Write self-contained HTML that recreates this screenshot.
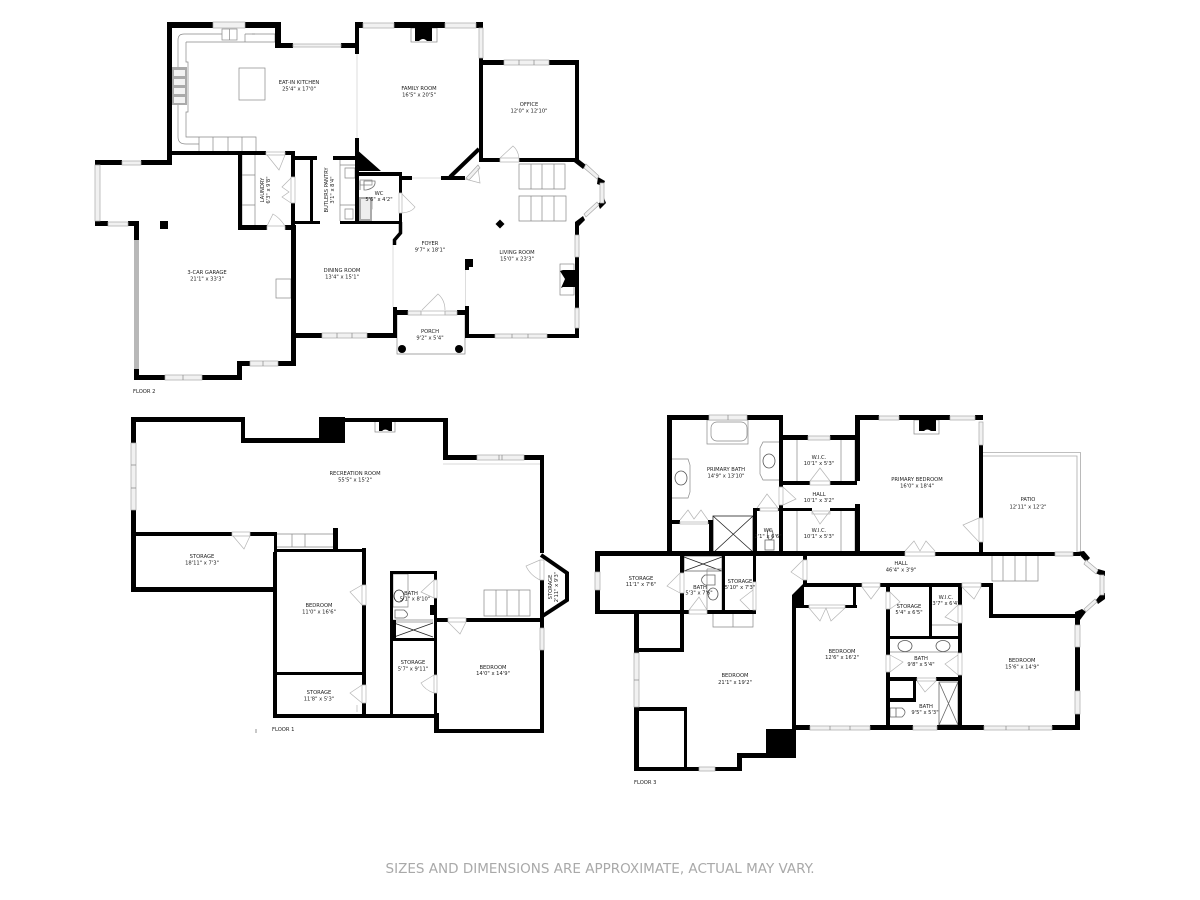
<!DOCTYPE html>
<html><head><meta charset="utf-8"><title>Floor plan</title>
<style>
html,body{margin:0;padding:0;background:#fff;width:1200px;height:900px;overflow:hidden}
svg{display:block}
.b{fill:#000}
.w{fill:#f1f1f1;stroke:#a8a8a8;stroke-width:.7}
.d{fill:none;stroke:#b5b5b5;stroke-width:.7}
.l{fill:none;stroke:#888;stroke-width:.7}
.g{fill:none;stroke:#aaa;stroke-width:.8}
.k{fill:none;stroke:#222;stroke-width:.8}
.ln{fill:none;stroke:#000}
text{font-family:"DejaVu Sans","Liberation Sans",sans-serif;font-size:5.2px;fill:#222;text-anchor:middle}
text.f{text-anchor:start}
</style></head><body>
<svg width="1200" height="900" viewBox="0 0 1200 900" xmlns="http://www.w3.org/2000/svg">
<rect width="1200" height="900" fill="#fff"/>

<!-- FLOOR 2 interior light -->
<path class="l" d="M186 42H275M178 40V137Q178 144 186 144H199M178 40Q178 34 184 34H222M186 42V62L188 62V112H186V137H256V151M199 137V151M213 137V151M228 137V151M242 137V151M245 34H275V42M245 34V42"/>
<rect x="239" y="68" width="26" height="32" class="l"/>
<rect x="172" y="67" width="15" height="38" fill="#aaa"/>
<g fill="#f2f2f2"><rect x="174" y="70" width="11" height="6"/><rect x="174" y="79" width="11" height="6"/><rect x="174" y="88" width="11" height="6"/><rect x="174" y="97" width="11" height="6"/></g>
<rect x="222" y="29" width="15" height="11" class="l"/>
<path class="l" d="M229.500 29V40M252 34H255M242 155V225M255 155V225M242 175H255M242 205H255M340 160V221M340 165H355M340 205H355M345 168H355V178H345ZM345 209H353V219H345Z"/>
<rect x="411" y="28" width="26" height="14" class="l"/>
<path class="b" d="M415 28H432V41H427Q423 37 419 41H415Z"/>
<path class="l" d="M519 164H565V189H519ZM519 196H566V221H519ZM531 164V189M542 164V189M554 164V189M531 196V221M542 196V221M554 196V221"/>
<rect x="560" y="264" width="14" height="31" class="l"/>
<path class="b" d="M563 270H579V287H563L561 288 565 279 560 271Z"/>
<rect x="276" y="279" width="15" height="19" class="l"/>
<path class="l" d="M397 310V354H465V310"/>
<path class="l" d="M360 180H372V185H360ZM360 198H372V209H360Z"/>
<path class="k" d="M364 181H375Q376 188 366 190H364ZM360 181V190" style="stroke:#777"/>
<rect x="359" y="197" width="13" height="24" fill="#aaa"/>
<rect x="361" y="199" width="9" height="20" fill="#eee"/>

<!-- FLOOR 2 walls -->
<path class="b" d="M167 22H213V28H167ZM245 22H281V28H245ZM167 22H172V165H167ZM275 22H281V48H275ZM275 43H293V48H275ZM341 43H357V48H341ZM167 151H266V155H167ZM285 151H295V155H285ZM295 156H317V160H295ZM333 156H357V160H333ZM95 160H122V165H95ZM141 160H172V165H141ZM95 221H108V226H95ZM128 221H139V226H128ZM134 221H139V240H134ZM134 369H139V380H134ZM134 375H165V380H134ZM202 375H242V380H202ZM237 361H242V380H237ZM237 361H250V366H237ZM278 361H296V366H278ZM291 225H296V366H291ZM238 155H242V230H238ZM238 225H267V230H238ZM285 225H296V230H285ZM291 155H295V177H291ZM291 203H295V228H291ZM310 156H313V224H310ZM294 221H320V224H294ZM340 221H402V224H340ZM355 22H363V28H355ZM394 22H445V28H394ZM476 22H483V28H476ZM355 22H359V54H355ZM355 138H359V224H355ZM355 148L381 171H355ZM359 172H400V176H359ZM399 172H402V193H399ZM399 213H402V224H399ZM402 176H412V180H402ZM441 176H465V180H441ZM479 58H483V162H479ZM479 60H504V65H479ZM549 60H579V65H549ZM575 60H579V162H575ZM480 158H500V162H480ZM519 158H578V162H519ZM575 225H579V235H575ZM575 257H579V308H575ZM575 328H579V338H575ZM465 334H495V338H465ZM547 334H579V338H547ZM296 333H322V338H296ZM367 333H397V338H367ZM393 307H397V338H393ZM465 306H469V338H465ZM393 310H408V315H393ZM457 310H469V315H457ZM577 158L586 165 583 169 574 162ZM598 177L605 181 603 186 597 184ZM598 204L604 198 606 203 600 209ZM575 222L583 216 585 220 579 226 575 233Z"/>
<path class="b" d="M465 259H473V267H469V270H465Z"/>
<path class="b" d="M500 219.500L504.500 224 500 228.500 495.500 224Z"/>
<rect x="160" y="221" width="8" height="8"/>
<circle cx="402" cy="349" r="4"/><circle cx="459" cy="349" r="4"/>
<path class="ln" stroke-width="4" d="M450 177L479 149"/>
<path class="ln" stroke-width="3.500" d="M400.500 222V233L394.500 240V245"/>

<!-- F2 windows -->
<rect class="w" x="213" y="22" width="32" height="6"/>
<rect class="w" x="293" y="44" width="48" height="3"/>
<rect class="w" x="363" y="23" width="31" height="5"/>
<rect class="w" x="445" y="23" width="31" height="5"/>
<rect class="w" x="479" y="28" width="4" height="30"/>
<rect class="w" x="504" y="60" width="45" height="5"/>
<path class="l" d="M519 60V65M534 60V65"/>
<rect class="w" x="122" y="161" width="19" height="4"/>
<rect class="w" x="95" y="165" width="5" height="56"/>
<rect class="w" x="108" y="222" width="20" height="4"/>
<rect x="134" y="240" width="5" height="129" fill="#b8b8b8"/>
<rect class="w" x="165" y="375" width="37" height="5"/>
<rect class="w" x="250" y="361" width="28" height="5"/>
<path class="l" d="M183 375V380M263 361V366"/>
<rect class="w" x="322" y="333" width="45" height="5"/>
<path class="l" d="M337 333V338M352 333V338"/>
<rect class="w" x="495" y="334" width="52" height="4"/>
<path class="l" d="M512 334V338M528 334V338"/>
<rect class="w" x="575" y="235" width="4" height="22"/>
<rect class="w" x="575" y="308" width="4" height="20"/>
<rect class="w" x="408" y="311" width="13" height="4"/>
<rect class="w" x="445" y="311" width="12" height="4"/>
<rect class="w" x="600" y="183" width="4" height="20"/>
<path class="w" d="M586 164L599 176 597 179 584 168ZM599 205L586 217 584 214 597 202Z"/>
<path class="w" d="M466 178L478 165 480 168 469 180Z"/>
<path stroke="#ddd" stroke-width="1" d="M357 54V138M393 245V307M465.500 270V306M412 178H441" fill="none"/>

<!-- F2 doors -->
<path class="d" d="M266 152H285V155H266ZM267 155L279 170 285 155M267 230V226H285V230M267 226L273 214Q280 218 285 226M421 311H445V315H421ZM422 310L438 294Q445 300 445 310M500 158H519V162H500ZM500 158L513 146Q518 150 519 158M399 193H402V213H399ZM402 194L415 207Q412 212 402 213M465 179L480 183 478 168M291 177H295V203H291ZM291 178L282 187 289 192 282 197 291 203"/>

<!-- FLOOR 1 interior -->
<path class="l" d="M277 534H334M277 547H334M292 534V547M305 534V547"/>
<path class="l" d="M484 590H530V616H484ZM496 590V616M507 590V616M519 590V616"/>
<path class="g" style="stroke:#ccc" d="M443 464H540"/>
<rect x="375" y="419" width="20" height="13" class="l"/>
<path class="b" d="M379 419H392V431H389Q385 428 382 431H379Z"/>
<path class="l" d="M393 574H408V607H393ZM393 622H433M393 620H433"/>
<ellipse cx="399" cy="596" rx="5" ry="6" class="k"/>
<path class="k" style="stroke:#666" d="M395 610H404Q411 615 404 618H395Z"/>
<path class="k" d="M394 623L433 637M394 637L433 623"/>

<!-- FLOOR 1 walls -->
<path class="b" d="M131 417H245V422H131ZM131 417H136V443H131ZM131 510H136V592H131ZM241 417H245V443H241ZM241 438H320V443H241ZM319 417H345V443H319ZM345 418H447V422H345ZM443 418H448V460H443ZM443 455H477V460H443ZM524 455H544V460H524ZM540 455H544V553H540ZM540 580H544V628H540ZM540 650H544V733H540ZM434 729H544V733H434ZM434 713H439V733H434ZM434 618H448V622H434ZM466 618H544V622H466ZM434 571H437V580H434ZM434 598H437V675H434ZM434 693H437V713H434ZM430 605H437V615H430ZM390 571H437V574H390ZM390 571H393V714H390ZM390 638H437V641H390ZM393 620H396V638H393ZM273 714H438V718H273ZM273 552H277V718H273ZM275 549H366V552H275ZM362 548H366V585H362ZM362 605H366V685H362ZM362 703H366V716H362ZM275 672H364V675H275ZM136 532H232V536H136ZM250 532H277V536H250ZM274 532H277V552H274ZM131 587H277V592H131ZM333 528H338V552H333Z"/>
<path class="ln" stroke-width="4" d="M541 555L567 573V600L541 617"/>
<rect class="w" x="131" y="443" width="5" height="67"/>
<path class="l" d="M131 465H136M131 488H136"/>
<rect class="w" x="477" y="455" width="47" height="5"/>
<path class="l" d="M499 455V460M502 455V460"/>
<rect class="w" x="540" y="628" width="4" height="22"/>
<path class="d" d="M232 532H250V536H232ZM233 536L244 549 250 536M448 618H466V622H448ZM448 622L460 634 466 622M540 560H544V580H540ZM540 560L526 566Q530 575 540 580M434 580H437V598H434ZM434 580L421 592 434 598M434 675H437V693H434ZM434 675L421 683Q425 690 434 693M362 585H366V605H362ZM362 585L350 592 362 605M362 685H366V703H362ZM362 685L350 693 362 703M357 705V712"/>
<path stroke="#777" stroke-width=".8" d="M256 729V733"/>

<!-- FLOOR 3 interior -->
<rect x="707" y="420" width="41" height="24" class="l" fill="#fff"/>
<rect x="711" y="422" width="36" height="19" rx="6" class="l"/>
<path class="l" d="M672 459H688L690 465V492L688 498H672M779 442H763L760 448V474L763 480H779"/>
<ellipse cx="681" cy="478" rx="6" ry="7" class="k" style="stroke:#555"/>
<ellipse cx="769" cy="461" rx="6" ry="7" class="k" style="stroke:#555"/>
<path class="l" d="M782 440V481M797 440V481M841 440V481M855 440V481M782 511V552M797 511V552M841 511V552M855 511V552"/>
<rect x="713" y="516" width="40" height="36" class="k" fill="#fff"/>
<path class="k" d="M713 516L753 552M753 516L714 552"/>
<rect x="684" y="556" width="38" height="15" fill="#fff" class="k" style="stroke:#666"/>
<path class="k" d="M684 557L722 571M722 557L684 571"/>
<path class="l" d="M707 569H722V610M707 569V610M684 571H722"/>
<ellipse cx="713" cy="594" rx="5" ry="6" class="k" style="stroke:#555"/>
<path class="k" style="stroke:#666" d="M705 575H715V585H705Q698 580 705 575Z"/>
<path class="k" style="stroke:#666" d="M765 540H774V550H765ZM768 530H772Q775 538 770 540Q766 538 768 530Z"/>
<path class="l" d="M713 614V627H753V614M733 614V627"/>
<path class="l" d="M992 555H1038V581H992ZM1003 555V581M1015 555V581M1026 555V581"/>
<rect x="914" y="420" width="25" height="14" class="l"/>
<path class="b" d="M919 420H936V431H931Q927 428 924 431H919Z"/>
<path class="g" d="M983 452.500H1080.500V552M983 456H1077V552"/>
<ellipse cx="905" cy="646" rx="7" ry="5.500" class="k" style="stroke:#555"/>
<ellipse cx="943" cy="646" rx="7" ry="5.500" class="k" style="stroke:#555"/>
<path class="l" d="M890 652H959M932 625H958"/>
<path class="k" style="stroke:#666" d="M890 708H896V717H890ZM896 708H902Q908 712 902 717H896Z"/>
<rect x="939" y="682" width="19" height="43" class="k" fill="#fff" style="stroke:#666"/>
<path class="k" style="stroke:#666" d="M939 682L958 725M958 682L939 725"/>

<!-- FLOOR 3 walls -->
<path class="b" d="M667 415H709V420H667ZM747 415H783V420H747ZM667 415H672V552H667ZM779 415H783V487H779ZM779 505H783V552H779ZM781 435H808V440H781ZM830 435H857V440H830ZM855 415H860V481H855ZM855 504H860V552H855ZM855 415H879V420H855ZM899 415H950V420H899ZM975 415H983V420H975ZM979 445H983V518H979ZM979 542H983V552H979ZM595 551H905V556H595ZM935 552H1055V556H935ZM1073 552H1080V556H1073ZM781 481H810V485H781ZM830 481H857V485H830ZM779 508H812V511H779ZM830 508H860V511H830ZM753 508H760V511H753ZM778 508H782V511H778ZM753 508H757V552H753ZM595 551H600V572H595ZM595 590H600V614H595ZM680 552H684V573H680ZM680 593H684V652H680ZM722 552H725V610H722ZM753 552H756V582H753ZM595 610H689V614H595ZM707 610H756V614H707ZM634 610H639V653H634ZM634 648H684V652H634ZM634 707H639V771H634ZM634 707H687V711H634ZM684 707H687V771H684ZM634 767H699V771H634ZM715 767H742V771H715ZM737 753H742V771H737ZM737 753H767V758H737ZM766 729H796V758H766ZM792 595H796V730H792ZM796 725H810V730H796ZM792 595L804 583V608H792ZM803 555H807V560H803ZM803 580H807V587H803ZM805 583H862V587H805ZM880 583H962V587H880ZM981 583H993V587H981ZM989 583H993V618H989ZM989 614H1078V618H989ZM1075 612H1080V625H1075ZM1075 647H1080V691H1075ZM1075 714H1080V730H1075ZM870 725H913V730H870ZM937 725H984V730H937ZM1052 725H1080V730H1052ZM804 605H809V608H804ZM845 605H857V608H845ZM853 585H856V608H853ZM667 520H680V524H667ZM708 520H713V524H708ZM709 520H713V552H709ZM886 585H890V592H886ZM886 609H890V655H886ZM886 672H890V725H886ZM929 585H932V636H929ZM886 636H962V639H886ZM958 585H962V605H958ZM958 623H962V653H958ZM958 675H962V725H958ZM890 677H917V681H890ZM936 677H962V681H936ZM913 681H916V702H913ZM890 698H916V702H890Z"/>
<path class="b" d="M1077 552L1084 551 1090 558 1086 562ZM1098 569L1105 571 1105 576 1100 575 1095 573ZM1100 595L1105 593 1105 599 1098 604 1096 600ZM1075 612V617L1080 620 1086 612 1082 609Z"/>
<rect class="w" x="709" y="415" width="38" height="5"/>
<path class="l" d="M728 415V420"/>
<rect class="w" x="808" y="436" width="22" height="4"/>
<rect class="w" x="879" y="416" width="20" height="4"/>
<rect class="w" x="950" y="416" width="25" height="4"/>
<rect class="w" x="979" y="422" width="4" height="23"/>
<rect class="w" x="1055" y="552" width="18" height="4"/>
<rect class="w" x="595" y="572" width="5" height="18"/>
<rect class="w" x="634" y="653" width="5" height="54"/>
<path class="l" d="M634 680H639"/>
<rect class="w" x="699" y="767" width="16" height="4"/>
<rect class="w" x="810" y="726" width="60" height="4"/>
<path class="l" d="M830 726V730M850 726V730"/>
<rect class="w" x="913" y="726" width="24" height="4"/>
<rect class="w" x="984" y="726" width="68" height="4"/>
<path class="l" d="M1006 726V730M1029 726V730"/>
<rect class="w" x="1075" y="625" width="5" height="22"/>
<rect class="w" x="1075" y="691" width="5" height="23"/>
<rect class="w" x="1100" y="575" width="4" height="20"/>
<path class="w" d="M1086 560L1098 570 1096 574 1084 564ZM1097 602L1086 612 1084 609 1095 599Z"/>
<!-- F3 doors -->
<path class="d" d="M779 487H783V505H779ZM783 487L796 499 783 505M760 508H778V511H760ZM757 508L767 494 778 508M810 481H830V485H810ZM810 481L820 468 830 481M812 511H830V514H812ZM812 511L820 524 830 511M680 522H708V524H680ZM680 520L688 510 694 519 701 510 708 520"/>
<path class="d" d="M680 573H684V593H680ZM680 573L667 586 680 593M689 610H707V614H689ZM689 610L699 597 707 610M753 582H756V610H753ZM753 590L740 600 750 610M803 560H807V580H803ZM803 560L791 572 803 580M905 552H935V556H905ZM905 551L914 541 920 551 926 541 935 551M979 518H983V542H979ZM979 518L963 525 979 542"/>
<path class="d" d="M809 605H845V608H809ZM809 608L820 621 826 608 831 621 845 608M862 583H880V587H862ZM862 587L871 599 880 587M962 583H981V587H962ZM962 587L974 599 981 587M886 592H890V609H886ZM890 592L900 602 890 609M958 605H962V623H958ZM958 605L945 617 958 623M886 655H890V672H886ZM890 655L903 662 890 672M958 653H962V675H958ZM958 655L945 664 958 675M917 678H936V681H917ZM917 681L925 692 936 681"/>

<!-- LABELS floor 2 -->
<text x="299" y="84">EAT-IN KITCHEN</text><text x="299" y="90.500">25'4" x 17'0"</text>
<text x="419" y="90">FAMILY ROOM</text><text x="419" y="96.500">16'5" x 20'5"</text>
<text x="529" y="106">OFFICE</text><text x="529" y="112.500">12'0" x 12'10"</text>
<text transform="translate(264 190) rotate(-90)">LAUNDRY</text><text transform="translate(270 190) rotate(-90)">6'3" x 9'8"</text>
<text transform="translate(328 190) rotate(-90)">BUTLERS PANTRY</text><text transform="translate(334 190) rotate(-90)">3'1" x 8'4"</text>
<text x="379" y="195">WC</text><text x="379" y="201">5'6" x 4'2"</text>
<text x="430" y="245">FOYER</text><text x="430" y="251.500">9'7" x 18'1"</text>
<text x="517" y="254">LIVING ROOM</text><text x="517" y="260.500">15'0" x 23'3"</text>
<text x="342" y="272">DINING ROOM</text><text x="342" y="278.500">13'4" x 15'1"</text>
<text x="207" y="274">3-CAR GARAGE</text><text x="207" y="280.500">21'1" x 33'3"</text>
<text x="430" y="333">PORCH</text><text x="430" y="339.500">9'2" x 5'4"</text>
<text class="f" x="133" y="393">FLOOR 2</text>
<!-- floor 1 -->
<text x="355" y="475">RECREATION ROOM</text><text x="355" y="481.500">55'5" x 15'2"</text>
<text x="202" y="558">STORAGE</text><text x="202" y="564.500">18'11" x 7'3"</text>
<text x="319" y="607">BEDROOM</text><text x="319" y="613.500">11'0" x 16'6"</text>
<text x="319" y="694">STORAGE</text><text x="319" y="700.500">11'8" x 5'3"</text>
<text x="411" y="595">BATH</text><text x="415" y="600.500">5'1" x 8'10"</text>
<text x="413" y="664">STORAGE</text><text x="413" y="670.500">5'7" x 9'11"</text>
<text x="493" y="669">BEDROOM</text><text x="493" y="675">14'0" x 14'9"</text>
<text transform="translate(552 587) rotate(-90)">STORAGE</text><text transform="translate(558 587) rotate(-90)">2'11" x 9'3"</text>
<text class="f" x="272" y="731">FLOOR 1</text>
<!-- floor 3 -->
<text x="726" y="471">PRIMARY BATH</text><text x="726" y="477.500">14'9" x 13'10"</text>
<text x="819" y="459">W.I.C.</text><text x="819" y="465">10'1" x 5'3"</text>
<text x="819" y="496">HALL</text><text x="819" y="502">10'1" x 3'2"</text>
<text x="819" y="532">W.I.C.</text><text x="819" y="538">10'1" x 5'3"</text>
<text x="768" y="532">WC</text><text x="768" y="538">2'1" x 6'6"</text>
<text x="641" y="580">STORAGE</text><text x="641" y="586">11'1" x 7'6"</text>
<text x="700" y="589">BATH</text><text x="699" y="594.500">5'3" x 7'6"</text>
<text x="740" y="583">STORAGE</text><text x="740" y="589">5'10" x 7'3"</text>
<text x="917" y="481">PRIMARY BEDROOM</text><text x="917" y="487.500">16'0" x 18'4"</text>
<text x="1028" y="501">PATIO</text><text x="1028" y="508.500">12'11" x 12'2"</text>
<text x="901" y="565">HALL</text><text x="901" y="571.500">46'4" x 3'9"</text>
<text x="735" y="677">BEDROOM</text><text x="735" y="684">21'1" x 19'2"</text>
<text x="842" y="653">BEDROOM</text><text x="842" y="659">12'6" x 16'2"</text>
<text x="909" y="608">STORAGE</text><text x="909" y="614">5'4" x 6'5"</text>
<text x="946" y="599">W.I.C.</text><text x="946" y="605">3'7" x 6'4"</text>
<text x="921" y="660">BATH</text><text x="921" y="666">9'8" x 5'4"</text>
<text x="926" y="708">BATH</text><text x="925" y="714">9'5" x 5'3"</text>
<text x="1022" y="662">BEDROOM</text><text x="1022" y="668.500">15'6" x 14'9"</text>
<text class="f" x="634" y="784">FLOOR 3</text>
<text x="600" y="873" textLength="429" lengthAdjust="spacingAndGlyphs" style="font-size:13px;fill:#a9a9a9">SIZES AND DIMENSIONS ARE APPROXIMATE, ACTUAL MAY VARY.</text>
</svg>
</body></html>
